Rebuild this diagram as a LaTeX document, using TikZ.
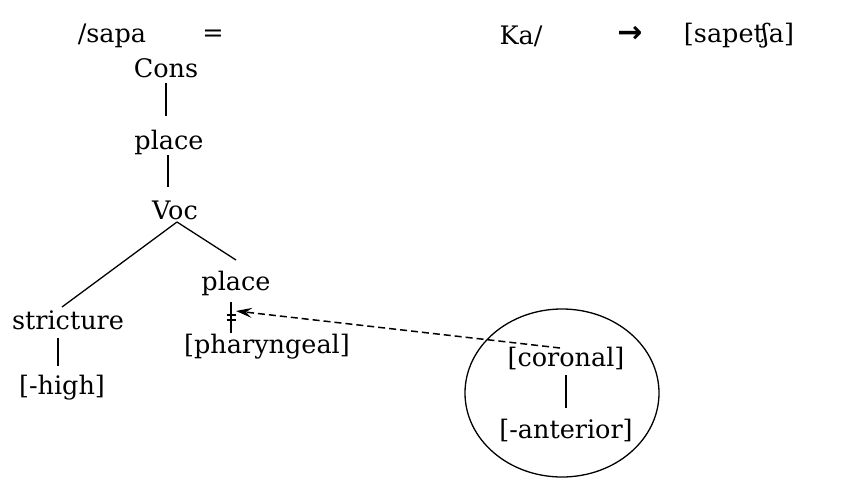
\documentclass[tikz,border=0pt]{standalone}
\usepackage{fontspec}
\setmainfont{DejaVu Serif}
\newfontfamily\arrowfont{DejaVu Sans}
\usetikzlibrary{arrows.meta,calc}
\begin{document}
\begin{tikzpicture}[x=1pt,y=-1pt,
  lab/.style={inner sep=0pt,font=\fontsize{25.5}{30}\selectfont},
  link/.style={line width=1.3pt},
  every node/.style={lab}]
\useasboundingbox (0,0) rectangle (855,480);
% top row
\node (sapa) at (112,36) {/sapa};
\node (eq) at (213,36) {=};
\node (ka) at (521,36) {Ka/};
\node (arr) at (630,34) {\arrowfont\bfseries\fontsize{30}{30}\selectfont →};
\node (res) at (739,36) {[sapeʧa]};
% tree
\node (cons) at (166,68) {Cons};
\node (plA) at (169,142) {place};
\node (voc) at (175,210) {Voc};
\node (strict) at (68,320) {stricture};
\node (high) at (62,388) {[-high]};
\node (plB) at (236,283) {place};
\node (phar) at (267,347) {[pharyngeal]};
\node (cor) at (566,358) {[coronal]};
\node (ant) at (566,430) {[-anterior]};
\draw[link] ($(cons)+(0,15)$) -- ($(plA)+(-3,-26)$);
\draw[link] ($(plA)+(-1,13)$) -- ($(voc)+(-7,-23)$);
\draw[link] ($(voc)+(2,12)$) -- ($(strict)+(-6,-13)$);
\draw[link] ($(voc)+(2,12)$) -- ($(plB)+(0,-23)$);
\draw[link] ($(strict)+(-10,18)$) -- ($(high)+(-4,-22)$);
\coordinate (dk) at ($(plB)+(-5,19)$);
\draw[link] (dk) -- ($(phar)+(-36,-14)$);
\draw[link] ($(dk)+(-4.5,13)$) -- ($(dk)+(5,13)$);
\draw[link] ($(dk)+(-4.5,18)$) -- ($(dk)+(5,18)$);
\draw[link] ($(cor)+(0,17)$) -- ($(ant)+(0,-22)$);
\draw[link] (562,393) ellipse [x radius=97pt, y radius=84pt];
\draw[line width=1.5pt,dash pattern=on 7pt off 4pt,-{Stealth[length=16pt,width=10pt,inset=6pt]}]
  ($(cor)+(-6,-10)$) -- ($(plB)+(0,28)$);
\end{tikzpicture}
\end{document}
